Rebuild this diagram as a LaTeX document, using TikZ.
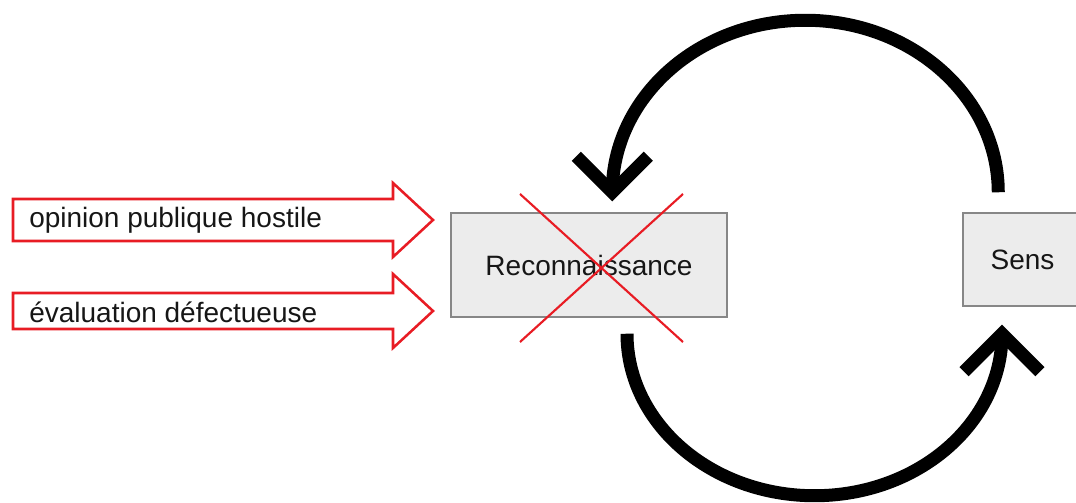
\documentclass[tikz,border=0pt]{standalone}
\usepackage{fontspec}
\setmainfont{Liberation Sans}
\usetikzlibrary{calc,positioning}
\definecolor{boxfill}{RGB}{236,236,236}
\definecolor{boxgray}{RGB}{135,135,135}
\definecolor{redline}{RGB}{232,28,36}
\definecolor{txt}{RGB}{22,22,22}

\begin{document}
\begin{tikzpicture}[x=0.75pt,y=0.75pt,
    box/.style={draw=boxgray,fill=boxfill,line width=1.1pt,inner sep=0pt,text=txt,font=\fontsize{21}{25}\selectfont},
    lbl/.style={inner sep=0pt,anchor=west,text=txt,font=\fontsize{21}{25}\selectfont},
    inarrow/.style={draw=redline,line width=1.9pt,fill=white,line join=miter},
    cross/.style={draw=redline,line width=1.6pt},
    loop/.style={draw=black,line width=9.75pt,line cap=butt,line join=miter}]
              \useasboundingbox (0,0) rectangle (1076,503);
              \clip (0,0) rectangle (1076,503);

              % input arrows
              \draw[inarrow] (13,304) -- (393,304) -- (393,320) -- (433,283) -- (393,246) -- (393,262) -- (13,262) -- cycle;
              \draw[inarrow] (13,210) -- (393,210) -- (393,229) -- (433,192) -- (393,155) -- (393,174) -- (13,174) -- cycle;
              \node[lbl] (opi) at (29,283) {opinion publique hostile};
              \node[lbl] (eva) at (29,191) {évaluation défectueuse};

              % boxes
              \node[box,minimum width=207pt,minimum height=78pt] (rec) at (589,238) {Reconnaissance};
              \node[box,minimum width=89.25pt,minimum height=69.75pt] (sens) at (1022.5,243.5) {Sens};

              \draw[cross] ($(rec)+(-69,71)$) -- ($(rec)+(94,-77)$);
              \draw[cross] ($(rec)+(94,71)$) -- ($(rec)+(-69,-77)$);

              % loop
              \draw[loop] ($(sens.north west)+(36,20)$) arc[start angle=0,end angle=180,x radius=193,y radius=172] coordinate (e1);
              \draw[loop] ($(e1)+(-36,36)$) -- (e1) -- ($(e1)+(36,36)$);
              \draw[loop] ($(rec.south)+(38,-16)$) arc[start angle=180,end angle=360,x radius=187.5,y radius=162] coordinate (e2);
              \draw[loop] ($(e2)+(-38,-38)$) -- (e2) -- ($(e2)+(38,-38)$);
            \end{tikzpicture}
\end{document}
